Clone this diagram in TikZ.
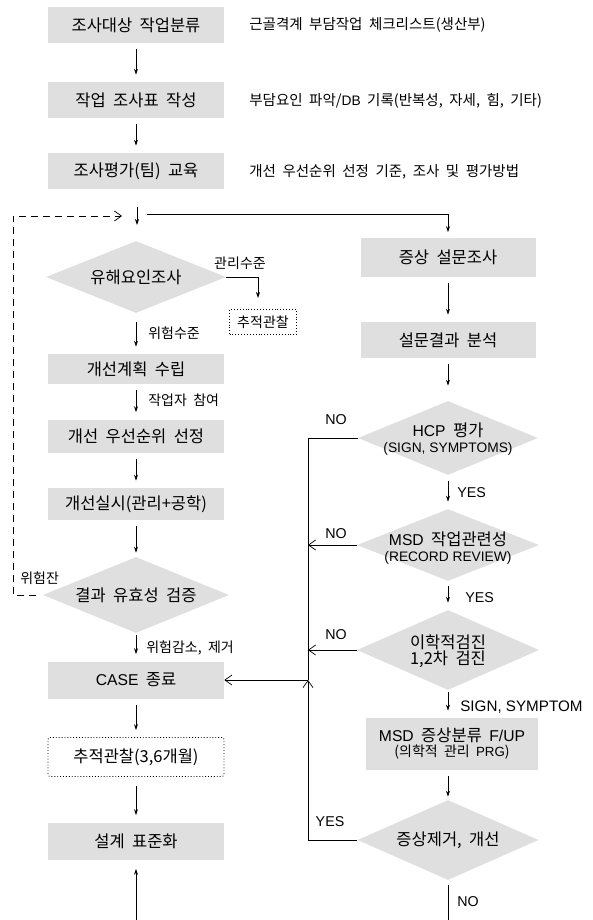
\documentclass[tikz,border=0pt]{standalone}
\usepackage{fontspec}
\setmainfont[WordSpace=2]{Noto Sans CJK KR}
\newfontfamily\latf[Scale=0.95]{Liberation Sans}
\newcommand\LatT[1]{{\latf #1}}
\usetikzlibrary{shapes.geometric,arrows.meta}
\tikzset{
  box/.style={fill=gray!25, minimum width=176pt, minimum height=36pt, inner sep=0pt,
    font=\fontsize{16.5}{19}\selectfont},
  dia/.style={diamond, fill=gray!25, inner sep=0pt, minimum width=182pt, minimum height=74pt},
  dtext/.style={align=center, inner sep=0pt, font=\fontsize{16.5}{19}\selectfont},
  side/.style={anchor=west, inner sep=0pt, font=\fontsize{14.5}{17}\selectfont},
  lab/.style={anchor=west, inner sep=0pt, font=\fontsize{14}{16}\selectfont},
  latlab/.style={anchor=west, inner sep=0pt, font=\fontsize{15}{18}\selectfont},
  arr/.style={-{Stealth[length=6pt,width=4pt]}, shorten <=6pt, shorten >=7pt},
  tip/.style={-{Stealth[length=6pt,width=4pt]}},
  oarr/.style={-{Straight Barb[length=7pt,width=10pt]}},
  dotbox/.style={draw, dotted, line width=0.9pt, fill=white, inner sep=0pt}
}
\begin{document}
\begin{tikzpicture}[x=1pt,y=-1pt,line width=0.7pt]
\useasboundingbox[fill=white] (0,0) rectangle (593,920);

% left column
\node[box] (n1) at (136,25) {조사대상 작업분류};
\node[box] (n2) at (136,100) {작업 조사표 작성};
\node[box] (n3) at (136,171) {조사평가(팀) 교육};
\node[side] (s1) at (249,25) {근골격계 부담작업 체크리스트(생산부)};
\node[side] (s2) at (249,101) {부담요인 파악/\LatT{DB} 기록(반복성, 자세, 힘, 기타)};
\node[side] (s3) at (249,172) {개선 우선순위 선정 기준, 조사 및 평가방법};
\draw[arr] (n1) -- (n2);
\draw[arr] (n2) -- (n3);

\coordinate (ja) at (137,207);
\coordinate (jb) at (137,225);
\coordinate (jc) at (147,214);
\draw[tip] (ja) -- (jb);

\node[dia, minimum width=180pt, minimum height=72pt] (d1) at (136,277) {};
\node[dtext] (d1t) at (d1) {유해요인조사};
\coordinate (k1) at (258,298);
\draw[tip] (d1.east) -| (k1);
\node[lab, anchor=center] (l1) at (240,263) {관리수준};
\node[dotbox, minimum width=67pt, minimum height=25pt, font=\fontsize{14}{16}\selectfont] (t1) at (263,322) {추적관찰};

\node[box, minimum height=30pt] (n4) at (136,369) {개선계획 수립};
\draw[arr, shorten <=9pt] (d1) -- (n4);
\node[lab] (l2) at (148,333) {위험수준};
\node[box, minimum height=33pt] (n5) at (136,436) {개선 우선순위 선정};
\draw[arr] (n4) -- (n5);
\node[lab] (l3) at (148,400) {작업자 참여};
\node[box, minimum height=32pt] (n6) at (136,504) {개선실시(관리+공학)};
\draw[arr] (n5) -- (n6);
\node[dia, minimum width=186pt, minimum height=76pt] (d2) at (136,595) {};
\node[dtext] (d2t) at (d2) {결과 유효성 검증};
\draw[arr, shorten >=4pt] (n6) -- (d2);
\node[lab] (l4) at (20,578) {위험잔};
\coordinate (lp) at (13,216);
\coordinate (lt) at (122,216);
\draw[dashed, dash pattern=on 7pt off 5pt, oarr] ([xshift=-7pt]d2.west) -| (lp) -- (lt);

\node[box, minimum height=37pt] (n7) at (136,680) {\LatT{CASE} 종료};
\draw[arr, shorten <=2pt] (d2) -- (n7);
\node[lab] (l5) at (146,648) {위험감소, 제거};
\node[dotbox, rounded corners=2pt, minimum width=176pt, minimum height=39pt, font=\fontsize{16.5}{19}\selectfont] (n8) at (136,757) {추적관찰(3,6개월)};
\draw[arr] (n7) -- (n8);
\node[box, minimum height=37pt] (n9) at (136,841) {설계 표준화};
\draw[arr, shorten <=9pt] (n8) -- (n9);
\coordinate (bt) at (136,920);
\draw[tip, shorten >=9pt] (bt) -- (n9);

% right column
\node[box, minimum width=175pt, minimum height=39pt] (r1) at (448,257) {증상 설문조사};
\draw[tip, shorten >=5pt] (jc) -| (r1.north);
\node[box, minimum width=175pt, minimum height=36pt] (r2) at (448,340) {설문결과 분석};
\draw[arr] (r1) -- (r2);
\node[dia, minimum width=180pt, minimum height=74pt] (r3) at (448,438) {};
\node[dtext] (r3t) at (448,439) {\LatT{HCP} 평가\\[-3pt]{\fontsize{14.5}{17}\selectfont\LatT{(SIGN, SYMPTOMS)}}};
\draw[arr, shorten >=15pt] (r2) -- (r3);
\node[dia, minimum width=182pt, minimum height=72pt] (r4) at (448,545) {};
\node[dtext] (r4t) at (448,548) {\LatT{MSD} 작업관련성\\[-3pt]{\fontsize{14.5}{17}\selectfont\LatT{(RECORD REVIEW)}}};
\draw[arr] (r3) -- (r4);
\node[latlab] (l6) at (457,493) {\LatT{YES}};
\node[dia, minimum width=182pt, minimum height=80pt] (r5) at (448,650) {};
\node[dtext] (r5t) at (448,651) {이학적검진\\[-3pt]1,2차 검진};
\draw[arr, shorten <=5pt] (r4) -- (r5);
\node[latlab] (l7) at (465,598) {\LatT{YES}};
\node[box, minimum width=172pt, minimum height=52pt] (r6) at (452,744) {};
\node[dtext] (r6t) at (452,744) {\LatT{MSD} 증상분류 \LatT{F/UP}\\[-4pt]{\fontsize{14}{16}\selectfont(의학적 관리 \LatT{PRG})}};
\draw[arr, shorten <=2pt] (r5.south) -- (r5.south |- r6.north);
\node[latlab] (l8) at (460,707) {\fontsize{16}{18}\selectfont\LatT{SIGN, SYMPTOM}};
\node[dia, minimum width=181pt, minimum height=80pt] (r7) at (448,840) {};
\node[dtext] (r7t) at (r7) {증상제거, 개선};
\draw[arr, shorten >=3pt] (r6.south -| r7.north) -- (r7.north);
\coordinate (rb) at (448,920);
\draw[shorten <=5pt] (r7.south) -- (rb);
\node[latlab] (l9) at (457,902) {\LatT{NO}};

% return lines
\coordinate (vx) at (308,0);
\draw (r3.west) -| (vx |- n7.east);
\draw[oarr] (r4.west) -- (r4.west -| vx);
\draw[oarr] (r5.west) -- (r5.west -| vx);
\draw[oarr] (r7.west) -| (vx |- n7.east);
\draw[oarr] (vx |- n7.east) -- (n7.east);
\node[latlab, anchor=center] (m1) at (336,420) {\LatT{NO}};
\node[latlab, anchor=center] (m2) at (336,534) {\LatT{NO}};
\node[latlab, anchor=center] (m3) at (336,635) {\LatT{NO}};
\node[latlab, anchor=center] (m4) at (330,822) {\LatT{YES}};
\end{tikzpicture}
\end{document}
